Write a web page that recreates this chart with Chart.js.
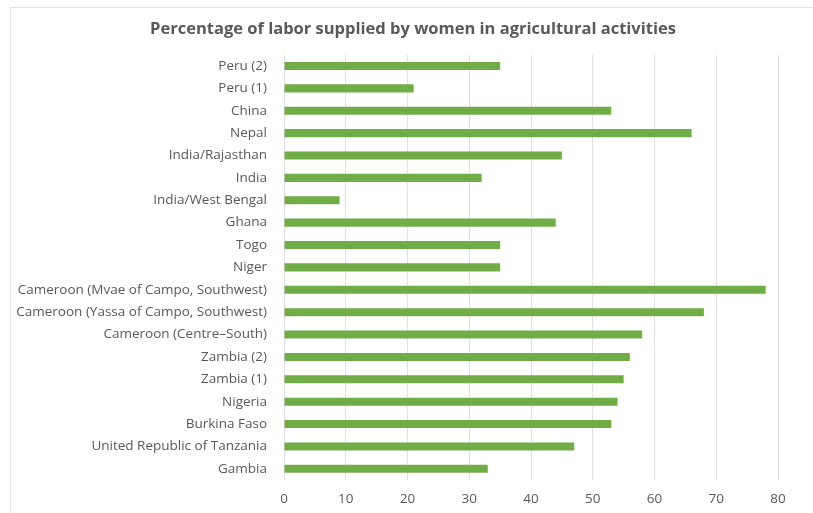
<!DOCTYPE html>
<html>
<head>
<meta charset="utf-8">
<script src="https://cdn.jsdelivr.net/npm/chart.js@4"></script>
<style>
  html, body { margin: 0; padding: 0; background: #fff; }
  #wrap { position: absolute; left: 0; top: 0; width: 813px; height: 513px; }
  #frame { position: absolute; left: 10px; top: 7px; width: 820px; height: 520px; border: 1px solid #e6e6e6; }
</style>
</head>
<body>
<div id="frame"></div>
<div id="wrap"><canvas id="barChart"></canvas></div>
<script>
const categories = [
    'Peru (2)', 'Peru (1)', 'China', 'Nepal', 'India/Rajasthan', 'India', 'India/West Bengal',
    'Ghana', 'Togo', 'Niger', 'Cameroon (Mvae of Campo, Southwest)',
    'Cameroon (Yassa of Campo, Southwest)', 'Cameroon (Centre\u2013South)', 'Zambia (2)', 'Zambia (1)',
    'Nigeria', 'Burkina Faso', 'United Republic of Tanzania', 'Gambia'
];
const laborShare = [35, 21, 53, 66, 45, 32, 9, 44, 35, 35, 78, 68, 58, 56, 55, 54, 53, 47, 33];
const xTicks = [0, 10, 20, 30, 40, 50, 60, 70, 80];

document.addEventListener('DOMContentLoaded', function () {
    const ctx = document.getElementById('barChart').getContext('2d');
    const grey = '#595959';

    new Chart(ctx, {
        type: 'bar',
        data: {
            labels: categories,
            datasets: [{
                label: 'Percentage of labor supplied by women',
                data: laborShare,
                backgroundColor: '#70ad47',
                borderWidth: 0,
                barPercentage: 0.36,
                categoryPercentage: 1
            }]
        },
        options: {
            indexAxis: 'y',
            responsive: true,
            maintainAspectRatio: false,
            animation: false,
            layout: { padding: { left: 13, right: 0, top: 12, bottom: 3 } },
            plugins: {
                legend: { display: false },
                tooltip: { enabled: false },
                title: {
                    display: true,
                    text: 'Percentage of labor supplied by women in agricultural activities',
                    color: grey,
                    font: { family: 'Open Sans', size: 16.5, weight: 'bold' },
                    padding: { top: 7, bottom: 16 }
                }
            },
            scales: {
                x: {
                    min: 0,
                    max: 80,
                    afterBuildTicks: function (scale) {
                        scale.ticks = xTicks.map(v => ({ value: v }));
                    },
                    // keep the right margin on the axis so the title stays centred on the page
                    afterFit: function (scale) {
                        scale.height = 30;
                        scale.paddingRight = 35;
                    },
                    grid: { color: '#e0e0e0', drawTicks: false },
                    border: { display: false },
                    ticks: {
                        color: grey,
                        padding: 11,
                        font: { family: 'Open Sans', size: 13.5 }
                    }
                },
                y: {
                    afterFit: function (scale) { scale.width = 271; },
                    grid: { display: false },
                    border: { display: false },
                    ticks: {
                        color: grey,
                        padding: 9,
                        font: { family: 'Open Sans', size: 13.5 }
                    }
                }
            }
        }
    });
});
</script>
</body>
</html>
